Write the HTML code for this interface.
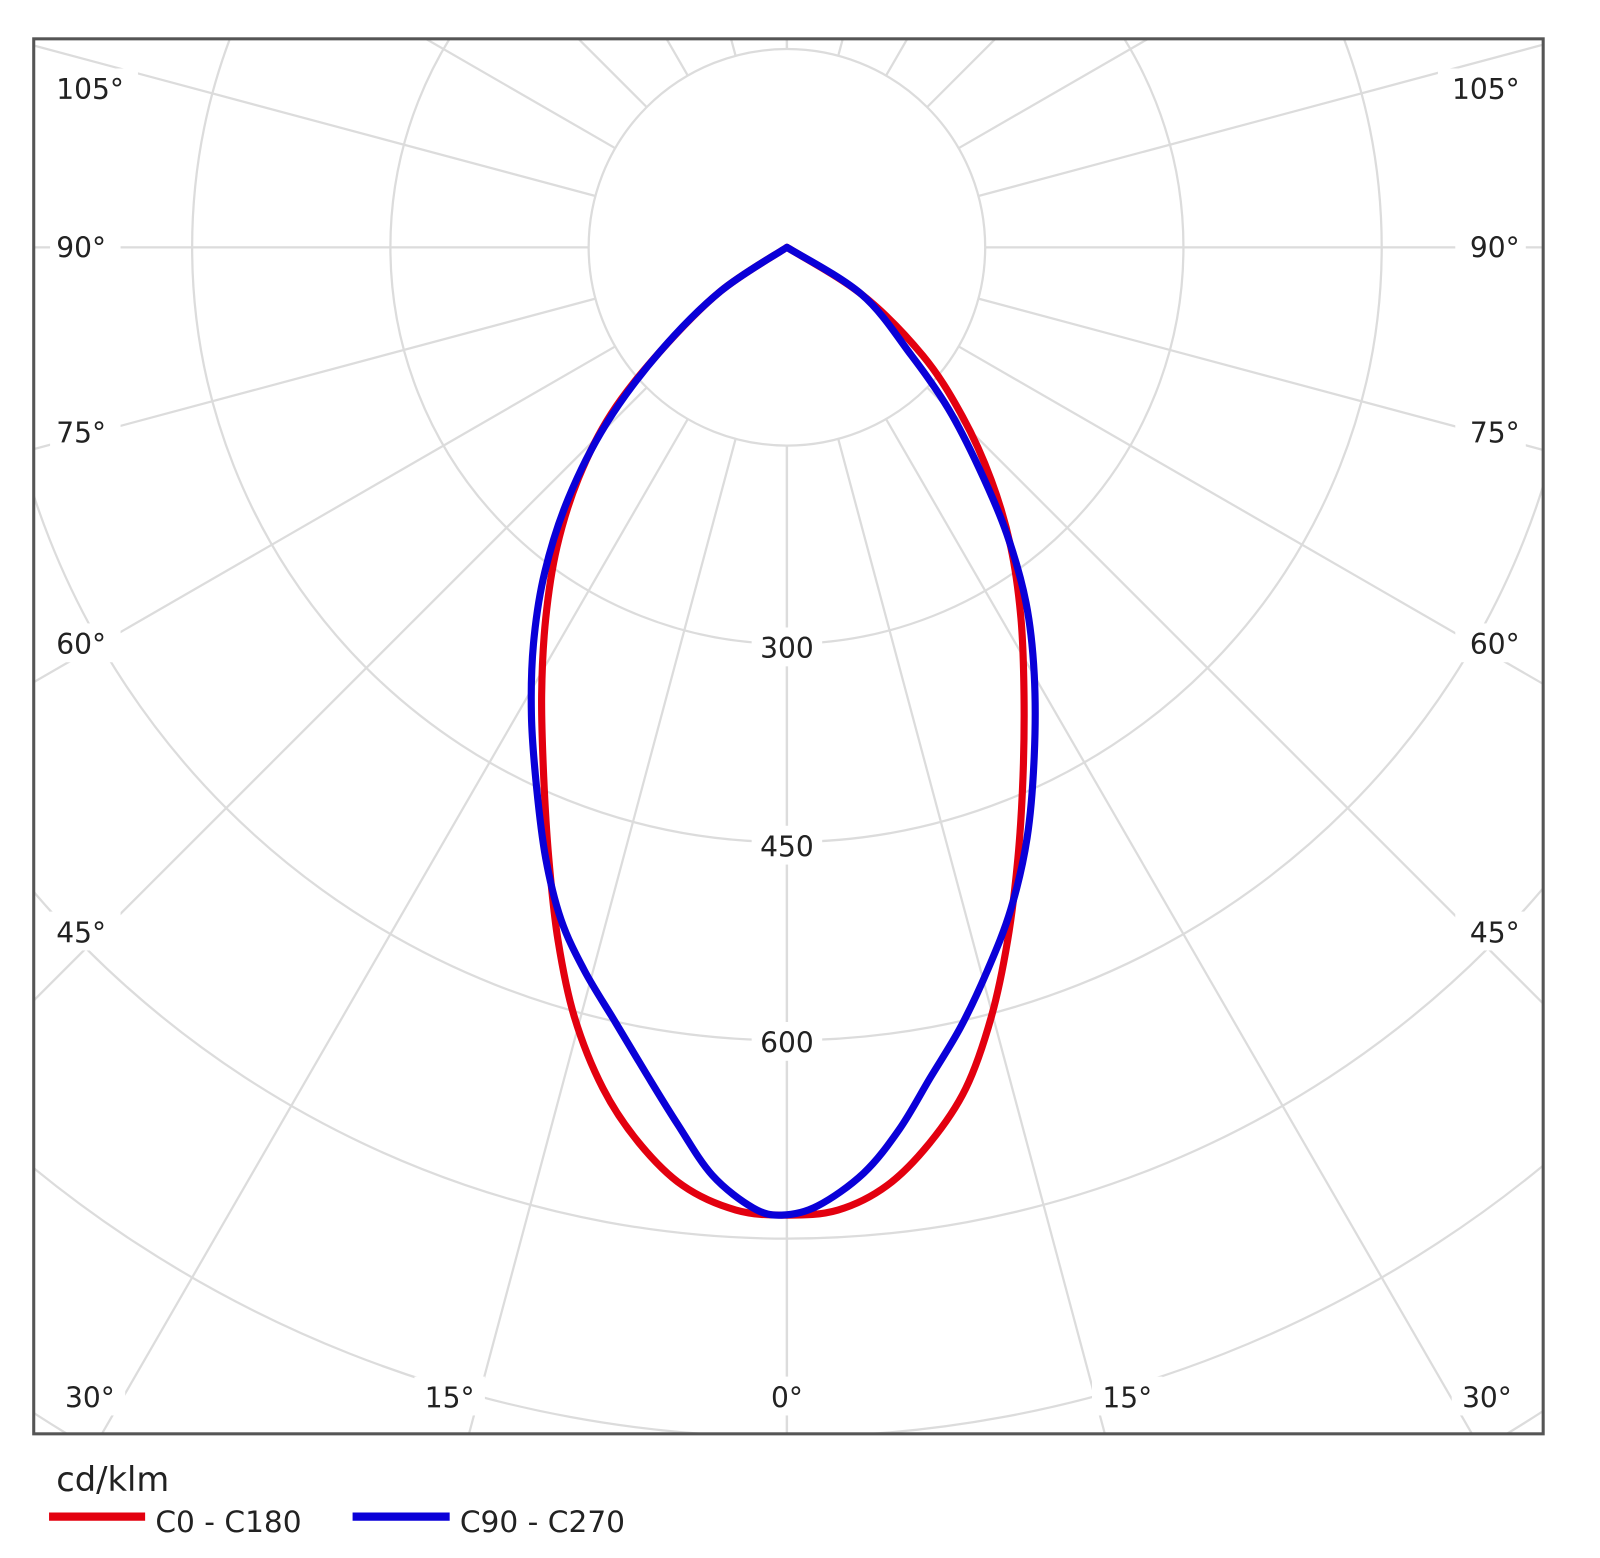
<!DOCTYPE html>
<html><head><meta charset="utf-8"><style>
html,body{margin:0;padding:0;background:#fff;overflow:hidden;width:1600px;height:1558px;}
svg{display:block;}
text{font-family:"DejaVu Sans","Liberation Sans",sans-serif;fill:#222;}
</style></head><body>
<svg id="s" width="1600" height="1558" viewBox="0 0 1565.6 1524.5" xmlns="http://www.w3.org/2000/svg">
<defs><clipPath id="c"><rect x="33" y="38" width="1477" height="1365"/></clipPath></defs>
<rect width="1565.6" height="1524.5" fill="#fff"/>
<g id="grid" clip-path="url(#c)" stroke="#dcdcdc" stroke-width="2.2" fill="none"></g>
<g id="lbl"></g>
<g clip-path="url(#c)" fill="none" stroke-width="7" stroke-linejoin="round" stroke-linecap="round">
<path id="red" stroke="#e3000f"/>
<path id="blue" stroke="#0a00d8"/>
</g>
<rect x="33" y="38" width="1477" height="1365" fill="none" stroke="#555" stroke-width="3"/>
<text x="55" y="1459" font-size="33">cd/klm</text>
<line x1="48" y1="1484" x2="142" y2="1484" stroke="#e3000f" stroke-width="8"/>
<text x="152" y="1499" font-size="29">C0 - C180</text>
<line x1="345" y1="1484" x2="440" y2="1484" stroke="#0a00d8" stroke-width="8"/>
<text x="450" y="1499" font-size="29">C90 - C270</text>
</svg>
<script>
var NS="http://www.w3.org/2000/svg",cx=770,cy=242,R=194;
var g=document.getElementById('grid'),L=document.getElementById('lbl');
function el(p,t,a){var e=document.createElementNS(NS,t);for(var k in a)e.setAttribute(k,a[k]);p.appendChild(e);return e;}
for(var k=1;k<=8;k++)el(g,'circle',{cx:cx,cy:cy,r:R*k});
for(var a=0;a<=180;a+=15){[1,-1].forEach(function(sg){var t=a*Math.PI/180;var s=Math.sin(t)*sg,c=Math.cos(t);
el(g,'line',{x1:cx+R*s,y1:cy+R*c,x2:cx+3000*s,y2:cy+3000*c});});}
function lab(x,y,t,anchor){var w=t.length*17+6;var x0=anchor=='middle'?x-w/2:(anchor=='end'?x-w:x);
el(L,'rect',{x:x0-6,y:y-20,width:w+12,height:38,fill:'#fff'});
var e=el(L,'text',{x:x,y:y+10,'font-size':27.5,'text-anchor':anchor});e.textContent=t;}
lab(55,87,'105°','start');lab(1487,87,'105°','end');
lab(55,242,'90°','start');lab(1487,242,'90°','end');
lab(55,423,'75°','start');lab(1487,423,'75°','end');
lab(55,630,'60°','start');lab(1487,630,'60°','end');
lab(55,912,'45°','start');lab(1487,912,'45°','end');
lab(88,1367,'30°','middle');lab(1455,1367,'30°','middle');
lab(440,1367,'15°','middle');lab(1103,1367,'15°','middle');
lab(770,1367,'0°','middle');
lab(770,634,'300','middle');lab(770,828,'450','middle');lab(770,1020,'600','middle');
function cr(p){var d='M'+p[0][0]+','+p[0][1];for(var i=0;i<p.length-1;i++){var p0=p[i-1]||p[i],p1=p[i],p2=p[i+1],p3=p[i+2]||p2;
d+=' C'+(p1[0]+(p2[0]-p0[0])/6)+','+(p1[1]+(p2[1]-p0[1])/6)+' '+(p2[0]-(p3[0]-p1[0])/6)+','+(p2[1]-(p3[1]-p1[1])/6)+' '+p2[0]+','+p2[1];}return d;}
var red=[[770,242],[705,285],[645,345],[598,405],[566,468],[545,535],[534,605],[530,680],[532,760],[537,840],[546,920],[562,995],[590,1065],[625,1118],[668,1160],[720,1184],[770,1189],[820,1184],[868,1160],[910,1118],[945,1065],[970,995],[986,920],[996,840],[1001,760],[1002,680],[999,605],[989,535],[970,470],[942,408],[903,348],[843,288],[770,242]];
var blue=[[770,242],[705,285],[645,345],[593,415],[556,488],[533,560],[522,630],[520,700],[525,770],[534,840],[549,900],[572,950],[602,1000],[632,1050],[663,1100],[697,1150],[737,1182],[765,1189],[800,1180],[845,1148],[880,1105],[910,1055],[940,1005],[966,950],[989,890],[1005,820],[1012,740],[1012,660],[1004,590],[985,522],[958,458],[928,400],[892,348],[843,288],[770,242]];
document.getElementById('red').setAttribute('d',cr(red));
document.getElementById('blue').setAttribute('d',cr(blue));
</script>
</body></html>
